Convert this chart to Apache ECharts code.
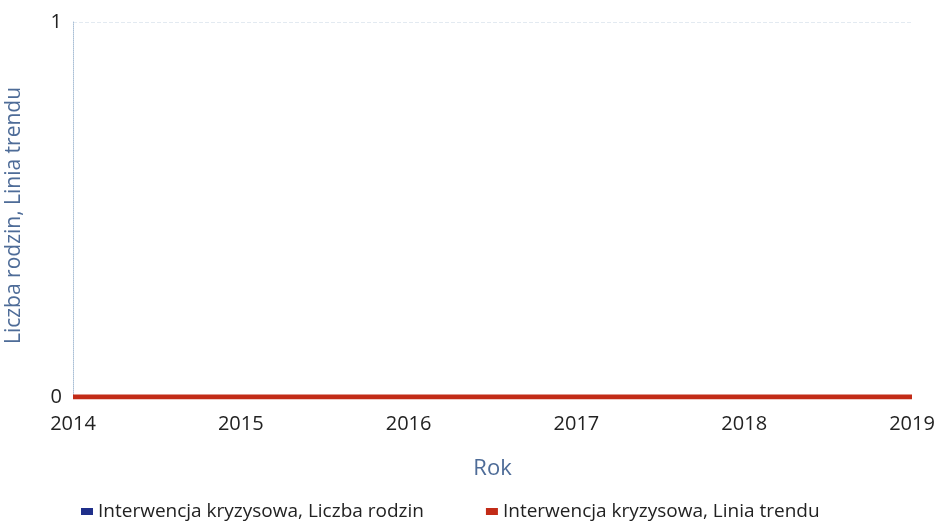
<!DOCTYPE html>
<html>
<head>
<meta charset="utf-8">
<script src="https://cdn.jsdelivr.net/npm/echarts@6/dist/echarts.min.js"></script>
<style>
  html, body { margin: 0; padding: 0; background: #fff; }
  #main { width: 935px; height: 524px; }
</style>
</head>
<body>
<div id="main"></div>
<script>
const years = ['2014', '2015', '2016', '2017', '2018', '2019']
const liczbaRodzin = [0, 0, 0, 0, 0, 0]
const liniaTrendu = [0, 0, 0, 0, 0, 0]
const seriesNames = ['Interwencja kryzysowa, Liczba rodzin', 'Interwencja kryzysowa, Linia trendu']

const myChart = echarts.init(document.getElementById('main'))
const font = 'Open Sans'
const option = {
  animation: false,
  textStyle: { fontFamily: font },
  grid: { left: 73, right: 23, top: 22, bottom: 127, outerBoundsMode: 'none', containLabel: false },
  legend: {
    top: 497,
    left: 76,
    icon: 'rect',
    itemWidth: 12,
    itemHeight: 7,
    itemGap: 62,
    data: seriesNames,
    textStyle: { color: '#222', fontSize: 19, fontFamily: font }
  },
  xAxis: {
    type: 'category',
    data: years,
    boundaryGap: false,
    name: 'Rok',
    nameLocation: 'middle',
    nameGap: 61,
    nameTextStyle: { color: '#4e6c98', fontSize: 22, fontFamily: font },
    axisLine: { show: false },
    axisTick: { show: false },
    axisLabel: { color: '#222', fontSize: 20, margin: 17, fontFamily: font },
    splitLine: { show: false }
  },
  yAxis: {
    type: 'value',
    min: 0,
    max: 1,
    interval: 1,
    name: 'Liczba rodzin, Linia trendu',
    nameLocation: 'middle',
    nameGap: 48,
    nameTextStyle: { color: '#4e6c98', fontSize: 21, fontFamily: font, padding: [0, 12, 0, 0] },
    axisLine: { show: true, lineStyle: { color: '#a9bfd6', type: 'dotted', width: 1 } },
    axisTick: { show: false },
    axisLabel: { color: '#222', fontSize: 20, margin: 11, fontFamily: font },
    splitLine: { show: true, lineStyle: { color: '#e3eaf1', type: 'dashed', width: 1 } }
  },
  series: [
    {
      name: seriesNames[0],
      type: 'line',
      data: liczbaRodzin,
      symbol: 'none',
      lineStyle: { color: '#1f2f8a', width: 3 },
      itemStyle: { color: '#1f2f8a' }
    },
    {
      name: seriesNames[1],
      type: 'line',
      data: liniaTrendu,
      symbol: 'none',
      lineStyle: { color: '#c22b17', width: 5 },
      itemStyle: { color: '#c22b17' }
    }
  ]
}
myChart.setOption(option)
</script>
</body>
</html>
